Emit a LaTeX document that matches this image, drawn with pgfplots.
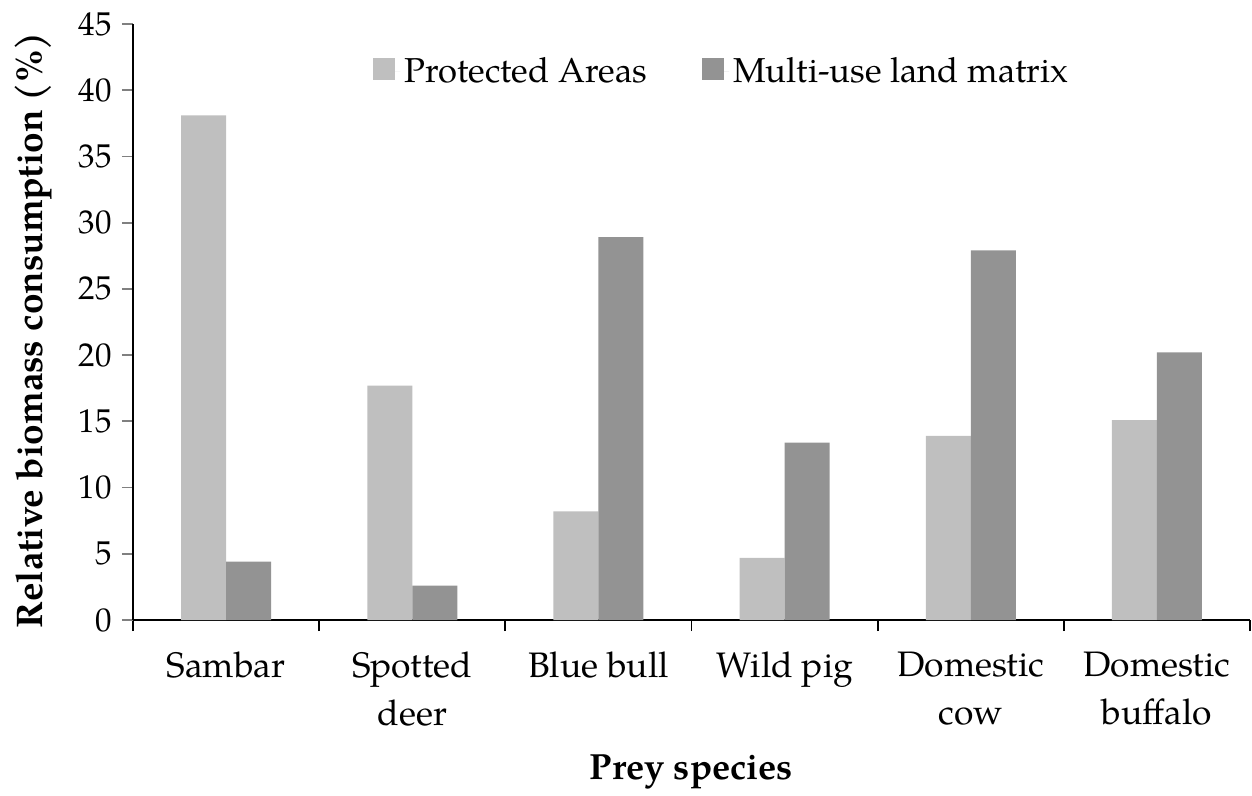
\documentclass[border=0pt]{standalone}
\usepackage{fontspec}
\setmainfont{TeX Gyre Pagella}
\usepackage{pgfplots}
\pgfplotsset{compat=1.18}
\definecolor{pa}{HTML}{BFBFBF}
\definecolor{mu}{HTML}{939393}
\begin{document}
\begin{tikzpicture}
\begin{axis}[
  scale only axis,
  width=558.5pt, height=298pt,
  ybar=0pt, bar width=22.5pt,
  xmin=-0.5, xmax=5.5, ymin=0, ymax=45,
  axis lines*=left,
  axis line style={line width=0.9pt},
  xtick={0,...,5},
  xticklabels={Sambar, Spotted\\deer, Blue bull, Wild pig, Domestic\\cow, Domestic\\buffalo},
  xticklabel style={align=center, font=\fontsize{17.7}{24}\selectfont, text depth=0pt, anchor=north, yshift=-7pt},
  minor xtick={-0.5,0.5,...,5.5},
  major x tick style={draw=none},
  minor x tick style={draw=black, line width=0.9pt},
  minor tick length=5.5pt,
  ytick={0,5,...,45},
  major tick length=5.5pt,
  y tick style={line width=0.9pt},
  tick align=outside,
  yticklabel style={font=\fontsize{16.5}{19}\selectfont, xshift=-1.5pt},
  /pgf/number format/assume math mode=true,
  ylabel={\textbf{Relative biomass consumption (\%)}},
  ylabel style={font=\fontsize{18.5}{20}\selectfont, xshift=-4pt},
  ylabel shift=6.5pt,
  xlabel={\textbf{Prey species}},
  xlabel style={font=\fontsize{18.2}{22}\selectfont, yshift=-7.5pt},
  legend style={draw=none, at={(0.528,0.92)}, anchor=center, legend columns=2,
    font=\fontsize{17.3}{20}\selectfont,
    /tikz/every even column/.append style={column sep=25.5pt}},
  legend image code/.code={\path (0pt,0pt) -- (13.5pt,0pt);\fill[#1] (0pt,-4.25pt) rectangle (11pt,6.75pt);},
]
\addplot[fill=pa, draw=none] coordinates {(0,38.1) (1,17.7) (2,8.2) (3,4.7) (4,13.9) (5,15.1)};
\addplot[fill=mu, draw=none] coordinates {(0,4.4) (1,2.6) (2,28.9) (3,13.4) (4,27.9) (5,20.2)};
\legend{Protected Areas, Multi-use land matrix}
\end{axis}
\path ([xshift=-66.5pt,yshift=-83pt]current axis.south west) rectangle ([xshift=1pt,yshift=12pt]current axis.north east);
\end{tikzpicture}
\end{document}
